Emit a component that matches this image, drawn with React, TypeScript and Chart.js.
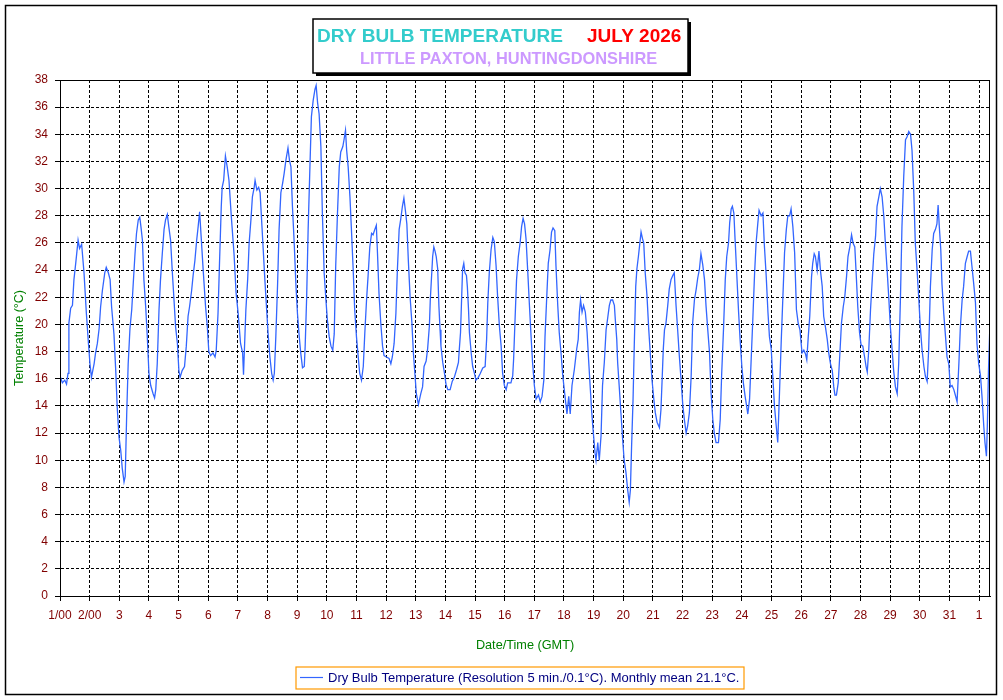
import React, { useEffect, useRef } from "react";
import { Chart, registerables } from "chart.js";

Chart.register(...registerables);

// ---- DATA (time in days since 1 July 00:00 GMT, temperature in °C) ----
const partWeek1: [number, number][] = [
  [0.00,16.2],[0.08,15.7],[0.16,15.9],[0.22,15.6],[0.27,16.4],[0.30,20.1],[0.36,21.2],[0.42,21.4],[0.47,23.3],[0.53,24.5],[0.61,26.2],[0.66,25.6],[0.73,25.9],[0.81,23.8],[0.89,20.8],[0.96,18.6],[1.01,17.1],[1.06,16.1],
  [1.15,17.1],[1.20,17.9],[1.26,18.6],[1.32,19.7],[1.37,21.3],[1.43,22.5],[1.51,23.8],[1.56,24.2],[1.63,23.8],[1.69,23.3],[1.74,21.3],[1.82,19.3],[1.88,16.6],[1.93,13.9],[1.99,11.7],[2.05,10.7],[2.10,9.4],[2.16,8.4],[2.20,8.8],[2.25,13.4],[2.30,17.1],[2.36,19.7],[2.42,21.1],[2.47,23.0],[2.53,25.2],[2.58,26.7],[2.64,27.7],[2.69,27.9],[2.73,27.2],[2.78,26.2],[2.83,23.3],[2.89,21.3],[2.94,19.3],[3.00,16.4],[3.06,15.5],[3.14,14.9],[3.19,14.6],[3.23,15.2],[3.28,17.1],[3.34,21.1],[3.39,23.3],[3.45,25.2],[3.51,27.0],[3.56,27.7],[3.62,28.1],[3.67,27.2],[3.73,26.2],[3.79,23.8],[3.84,22.0],[3.90,19.8],[3.96,18.6],[4.01,16.6],[4.05,16.1],[4.12,16.6],[4.20,16.9],[4.26,18.4],[4.32,20.6],[4.37,21.3],[4.44,22.5],[4.49,23.6],[4.55,24.7],[4.61,26.2],[4.66,27.2],[4.71,28.3],[4.76,26.5],[4.83,24.0],[4.91,21.3],[4.97,19.8],[5.02,18.0],[5.08,17.7],[5.16,17.9],[5.23,17.6],[5.27,18.1],[5.33,20.8],[5.38,24.5],[5.44,28.7],[5.47,30.1],[5.52,30.6],[5.58,32.4],[5.64,31.6],[5.70,30.6],[5.78,27.9],[5.87,25.2],[5.94,22.3],[6.01,20.8],[6.09,18.6],
];
const partWeek2: [number, number][] = [
  [6.16,17.9],[6.19,16.3],[6.27,21.1],[6.33,23.3],[6.38,26.0],[6.44,27.7],[6.49,29.4],[6.55,30.1],[6.58,30.6],[6.64,29.9],[6.70,30.1],[6.75,29.7],[6.80,27.7],[6.85,25.7],[6.91,23.3],[6.97,21.1],[7.02,19.3],[7.08,17.6],[7.14,16.4],[7.19,15.9],[7.23,16.4],[7.28,19.1],[7.34,23.0],[7.39,27.0],[7.45,29.7],[7.51,30.4],[7.56,31.1],[7.62,32.1],[7.69,33.0],[7.74,32.1],[7.79,31.6],[7.84,28.7],[7.90,26.0],[7.96,22.8],[8.01,20.8],[8.07,19.1],[8.12,17.9],[8.18,16.8],[8.24,16.9],[8.27,18.4],[8.32,22.0],[8.37,27.0],[8.43,31.6],[8.48,35.3],[8.54,36.5],[8.60,37.3],[8.64,37.6],[8.69,36.3],[8.74,35.5],[8.80,33.1],[8.85,28.2],[8.91,23.8],[8.97,21.8],[9.02,20.3],[9.08,19.1],[9.14,18.4],[9.20,18.1],[9.25,19.3],[9.30,24.3],[9.36,28.2],[9.42,31.6],[9.47,32.7],[9.54,33.1],[9.58,33.6],[9.63,34.3],[9.67,32.8],[9.72,31.6],[9.78,29.4],[9.83,27.0],[9.89,24.0],[9.94,21.1],[10.00,19.1],[10.06,17.6],[10.11,16.4],[10.17,15.9],[10.23,16.9],[10.28,19.3],[10.34,21.8],[10.39,23.5],[10.45,25.7],[10.51,26.7],[10.56,26.6],[10.62,27.0],[10.67,27.3],[10.71,25.2],[10.76,22.3],[10.82,20.1],[10.88,18.4],[10.93,17.7],[11.01,17.6],[11.10,17.5],[11.16,17.1],[11.21,17.6],[11.27,18.6],[11.33,20.8],[11.38,24.0],[11.44,27.0],[11.49,27.7],[11.55,28.7],[11.60,29.3],[11.65,28.4],[11.70,27.4],[11.75,24.7],[11.81,22.0],[11.87,20.1],[11.92,17.9],[11.98,16.1],[12.02,14.9],[12.09,14.1],[12.17,14.9],[12.23,15.4],[12.28,16.9],
];
const partWeek3: [number, number][] = [
  [12.35,17.3],[12.40,18.2],[12.46,19.9],[12.49,21.8],[12.54,23.8],[12.57,25.0],[12.61,25.7],[12.65,25.4],[12.69,25.0],[12.74,24.1],[12.78,21.4],[12.82,19.6],[12.85,18.4],[12.91,17.2],[12.97,16.4],[13.02,15.6],[13.08,15.2],[13.16,15.2],[13.23,15.8],[13.30,16.1],[13.38,16.7],[13.44,17.2],[13.47,18.2],[13.51,19.4],[13.55,22.1],[13.58,24.1],[13.62,24.5],[13.66,23.8],[13.71,23.6],[13.74,22.8],[13.78,21.1],[13.81,19.4],[13.87,17.9],[13.92,16.9],[13.98,16.4],[14.03,15.9],[14.11,16.1],[14.18,16.4],[14.26,16.8],[14.34,16.9],[14.39,18.9],[14.43,21.6],[14.48,23.8],[14.54,25.5],[14.60,26.4],[14.65,26.1],[14.71,24.3],[14.76,22.1],[14.82,19.9],[14.88,18.4],[14.93,16.4],[14.99,15.5],[15.05,15.2],[15.10,15.7],[15.21,15.7],[15.27,16.2],[15.30,17.4],[15.35,20.4],[15.40,23.3],[15.46,25.0],[15.52,26.0],[15.57,27.2],[15.62,27.8],[15.67,27.4],[15.72,26.3],[15.78,23.8],[15.83,21.6],[15.89,19.1],[15.94,17.2],[16.00,15.5],[16.06,14.5],[16.14,14.8],[16.20,14.3],[16.26,14.7],[16.32,15.9],[16.36,19.1],[16.42,22.1],[16.47,24.5],[16.53,25.5],[16.58,26.8],[16.63,27.1],[16.69,26.9],[16.73,24.3],[16.79,21.4],[16.84,19.4],[16.90,17.9],[16.96,16.2],[17.01,15.2],[17.07,14.0],[17.10,13.4],[17.16,14.7],[17.21,13.4],[17.27,15.5],[17.35,16.7],[17.43,18.2],[17.48,18.9],[17.52,20.9],[17.56,21.8],[17.61,20.9],[17.66,21.4],[17.72,20.9],[17.78,19.4],[17.83,17.4],[17.89,15.2],[17.93,13.7],[17.99,12.0],[18.05,10.5],[18.08,10.0],[18.14,11.3],[18.19,10.0],[18.25,11.8],[18.30,15.5],[18.36,17.2],[18.42,19.6],[18.47,20.4],[18.53,21.4],
];
const partWeek4: [number, number][] = [
  [18.58,21.8],[18.64,21.8],[18.70,21.4],[18.73,20.4],[18.78,18.9],[18.81,17.2],[18.87,15.2],[18.92,13.5],[18.98,11.5],[19.03,10.0],[19.09,9.1],[19.15,7.8],[19.20,6.9],[19.24,7.8],[19.28,11.0],[19.33,14.5],[19.37,18.4],[19.42,22.8],[19.46,24.1],[19.51,25.0],[19.55,25.8],[19.60,26.8],[19.65,26.3],[19.69,26.0],[19.74,23.8],[19.80,22.1],[19.86,19.6],[19.91,17.9],[19.97,15.9],[20.03,14.5],[20.08,13.5],[20.14,12.8],[20.22,12.4],[20.27,13.7],[20.31,15.9],[20.35,18.2],[20.39,19.6],[20.44,20.1],[20.50,21.4],[20.55,22.6],[20.61,23.3],[20.67,23.6],[20.72,23.8],[20.78,21.4],[20.84,19.4],[20.89,17.7],[20.95,15.9],[21.01,14.0],[21.06,13.0],[21.12,12.0],[21.17,12.5],[21.23,13.5],[21.29,16.2],[21.34,20.1],[21.40,21.8],[21.46,22.6],[21.51,23.4],[21.57,24.1],[21.62,25.2],[21.68,24.4],[21.74,23.3],[21.79,21.4],[21.85,19.6],[21.91,17.9],[21.96,15.0],[22.02,13.0],[22.07,12.0],[22.13,11.3],[22.21,11.3],[22.27,13.0],[22.32,16.4],[22.38,19.6],[22.44,23.3],[22.49,25.0],[22.55,26.0],[22.59,27.5],[22.64,28.5],[22.68,28.7],[22.73,28.2],[22.77,26.3],[22.83,23.6],[22.89,20.9],[22.94,18.9],[23.00,16.9],[23.05,15.7],[23.11,14.7],[23.18,13.7],[23.20,13.4],[23.26,14.5],[23.31,17.2],[23.37,20.4],[23.43,23.8],[23.48,26.0],[23.54,27.5],[23.58,28.4],[23.65,28.0],[23.71,28.2],[23.76,25.8],[23.82,23.6],[23.88,20.9],[23.93,19.1],[23.99,18.2],[24.05,15.9],[24.10,14.0],[24.16,12.5],[24.21,11.3],[24.27,15.0],[24.33,18.9],[24.38,21.8],[24.44,25.3],[24.50,27.0],[24.55,28.0],[24.61,28.0],[24.66,28.5],[24.72,27.2],[24.78,25.3],
];
const partWeek5: [number, number][] = [
  [24.84,21.1],[24.90,20.1],[24.96,19.6],[25.00,18.6],[25.03,17.9],[25.09,18.1],[25.15,17.8],[25.19,17.4],[25.24,19.1],[25.29,20.6],[25.35,23.5],[25.39,24.5],[25.44,25.2],[25.48,25.0],[25.54,24.0],[25.60,25.4],[25.65,24.0],[25.71,22.8],[25.76,20.6],[25.82,19.8],[25.88,18.9],[25.93,17.9],[25.99,17.1],[26.05,16.6],[26.10,15.4],[26.14,14.8],[26.19,14.8],[26.25,15.7],[26.30,17.6],[26.36,20.1],[26.42,21.3],[26.47,22.0],[26.53,23.5],[26.58,25.0],[26.64,25.7],[26.70,26.6],[26.75,26.0],[26.81,25.7],[26.85,24.0],[26.91,21.3],[26.97,19.4],[27.02,18.5],[27.08,18.4],[27.14,17.6],[27.19,16.9],[27.23,16.5],[27.28,18.1],[27.34,21.1],[27.39,23.0],[27.45,25.2],[27.51,26.5],[27.56,28.7],[27.62,29.4],[27.67,30.0],[27.73,29.4],[27.79,27.9],[27.84,26.0],[27.90,24.0],[27.96,21.8],[28.01,19.8],[28.07,18.1],[28.12,16.6],[28.18,15.4],[28.24,14.9],[28.29,17.1],[28.35,22.0],[28.40,27.2],[28.46,30.9],[28.52,33.6],[28.57,33.8],[28.63,34.2],[28.69,34.0],[28.74,32.8],[28.80,29.7],[28.85,26.0],[28.91,24.0],[28.97,21.8],[29.02,19.8],[29.08,18.1],[29.14,16.9],[29.19,16.2],[29.25,15.8],[29.30,18.1],[29.36,22.8],[29.42,25.5],[29.47,26.7],[29.53,27.0],[29.58,27.4],[29.62,28.8],[29.66,27.2],[29.71,25.5],[29.75,23.0],[29.81,20.8],[29.87,19.1],[29.92,17.6],[29.98,17.1],[30.03,15.4],[30.09,15.5],[30.15,15.2],[30.20,14.8],[30.26,14.3],[30.32,17.1],[30.37,19.8],[30.43,21.8],[30.48,22.8],[30.54,24.5],[30.60,25.0],[30.65,25.4],[30.71,25.4],[30.76,24.3],[30.82,23.0],[30.88,21.6],[30.93,18.6],[30.99,17.1],[31.05,16.2],[31.10,14.7],[31.16,12.5],[31.20,11.3],[31.25,10.3],[31.28,12.5],[31.32,16.7],[31.36,19.5],
];

const xTickValues = Array.from({ length: 32 }, (_, i) => i);
const xTickLabels = [
  "1/00", "2/00", "3", "4", "5", "6", "7", "8", "9", "10", "11", "12", "13", "14", "15", "16",
  "17", "18", "19", "20", "21", "22", "23", "24", "25", "26", "27", "28", "29", "30", "31", "1",
];
const xMax = 31.37;
const yMin = 0;
const yMax = 38;
const yStep = 2;

const titleMain = "DRY BULB TEMPERATURE";
const titleMonth = "JULY 2026";
const titleSite = "LITTLE PAXTON, HUNTINGDONSHIRE";
const yAxisTitle = "Temperature (°C)";
const xAxisTitle = "Date/Time (GMT)";
const legendText = "Dry Bulb Temperature (Resolution 5 min./0.1°C). Monthly mean 21.1°C.";

const FONT = '"Liberation Sans", Arial, sans-serif';
const LINE_COLOR = "#3366FF";
const TICK_COLOR = "#800000";

const decorPlugin = {
  id: "decor",
  beforeDraw(chart: any) {
    const ctx = chart.ctx;
    ctx.save();
    ctx.fillStyle = "#ffffff";
    ctx.fillRect(0, 0, chart.width, chart.height);
    ctx.restore();
  },
  afterDraw(chart: any) {
    const ctx = chart.ctx;
    const a = chart.chartArea;
    ctx.save();
    // outer frame
    ctx.strokeStyle = "#000";
    ctx.lineWidth = 1.5;
    ctx.strokeRect(5.5, 5.5, 991, 689);
    // plot frame
    ctx.lineWidth = 1;
    ctx.strokeRect(a.left + 0.5, a.top + 0.5, a.right - a.left - 1, a.bottom - a.top);

    // title box with shadow
    ctx.fillStyle = "#000";
    ctx.fillRect(316, 22, 375, 54);
    ctx.fillStyle = "#fff";
    ctx.fillRect(313, 19, 375, 54);
    ctx.lineWidth = 1.5;
    ctx.strokeStyle = "#000";
    ctx.strokeRect(313, 19, 375, 54);

    ctx.textBaseline = "alphabetic";
    ctx.textAlign = "left";
    ctx.font = `bold 19px ${FONT}`;
    ctx.fillStyle = "#33CCCC";
    ctx.fillText(titleMain, 317, 42);
    ctx.fillStyle = "#FF0000";
    ctx.fillText(titleMonth, 587, 42);
    ctx.font = `bold 16.4px ${FONT}`;
    ctx.fillStyle = "#CC99FF";
    ctx.fillText(titleSite, 360, 64);

    // axis titles
    ctx.fillStyle = "#008000";
    ctx.font = `12.5px ${FONT}`;
    ctx.textAlign = "center";
    ctx.textBaseline = "middle";
    ctx.save();
    ctx.translate(20, (a.top + a.bottom) / 2);
    ctx.rotate(-Math.PI / 2);
    ctx.fillText(yAxisTitle, 0, 0);
    ctx.restore();
    ctx.font = `12.7px ${FONT}`;
    ctx.fillText(xAxisTitle, (a.left + a.right) / 2, 645);

    // legend
    ctx.strokeStyle = "#FF9900";
    ctx.lineWidth = 1.2;
    ctx.strokeRect(296, 667, 448, 22);
    ctx.strokeStyle = LINE_COLOR;
    ctx.lineWidth = 1.2;
    ctx.beginPath();
    ctx.moveTo(300, 677.5);
    ctx.lineTo(323, 677.5);
    ctx.stroke();
    ctx.fillStyle = "#000080";
    ctx.font = `13px ${FONT}`;
    ctx.textAlign = "left";
    ctx.textBaseline = "alphabetic";
    ctx.fillText(legendText, 328, 682);
    ctx.restore();
  },
};

export default function App() {
  const canvasRef = useRef<HTMLCanvasElement | null>(null);

  useEffect(() => {
    if (!canvasRef.current) return;
    const points = [...partWeek1, ...partWeek2, ...partWeek3, ...partWeek4, ...partWeek5].map(
      ([x, y]) => ({ x, y })
    );
    const tickFont = { family: FONT, size: 12 };
    const chart = new Chart(canvasRef.current, {
      type: "line",
      data: {
        datasets: [
          {
            label: legendText,
            data: points,
            borderColor: LINE_COLOR,
            borderWidth: 1.3,
            pointRadius: 0,
            tension: 0,
            fill: false,
          },
        ],
      },
      options: {
        animation: false,
        responsive: false,
        devicePixelRatio: 1,
        layout: { padding: { left: 0, top: 80, right: 13, bottom: 0 } },
        plugins: {
          legend: { display: false },
          title: { display: false },
          tooltip: { enabled: false },
        },
        scales: {
          x: {
            type: "linear",
            min: 0,
            max: xMax,
            afterBuildTicks: (scale: any) => {
              scale.ticks = xTickValues.map((v) => ({ value: v }));
            },
            afterFit: (scale: any) => {
              scale.height = 104;
            },
            ticks: {
              autoSkip: false,
              maxRotation: 0,
              minRotation: 0,
              padding: 7,
              color: TICK_COLOR,
              font: tickFont,
              callback: (v: any) => xTickLabels[Math.round(Number(v))] ?? "",
            },
            grid: { color: "#000", lineWidth: 1, tickLength: 5, drawTicks: true },
            border: { display: true, color: "#000", width: 1, dash: [3, 2] },
          },
          y: {
            type: "linear",
            min: yMin,
            max: yMax,
            afterFit: (scale: any) => {
              scale.width = 60;
            },
            ticks: {
              stepSize: yStep,
              padding: 7,
              color: TICK_COLOR,
              font: tickFont,
            },
            grid: { color: "#000", lineWidth: 1, tickLength: 5, drawTicks: true },
            border: { display: true, color: "#000", width: 1, dash: [3, 2] },
          },
        },
      },
      plugins: [decorPlugin],
    } as any);
    return () => chart.destroy();
  }, []);

  return (
    <div style={{ position: "absolute", left: 0, top: 0, width: 1003, height: 700 }}>
      <canvas ref={canvasRef} width={1003} height={700} style={{ width: 1003, height: 700, display: "block" }} />
    </div>
  );
}
